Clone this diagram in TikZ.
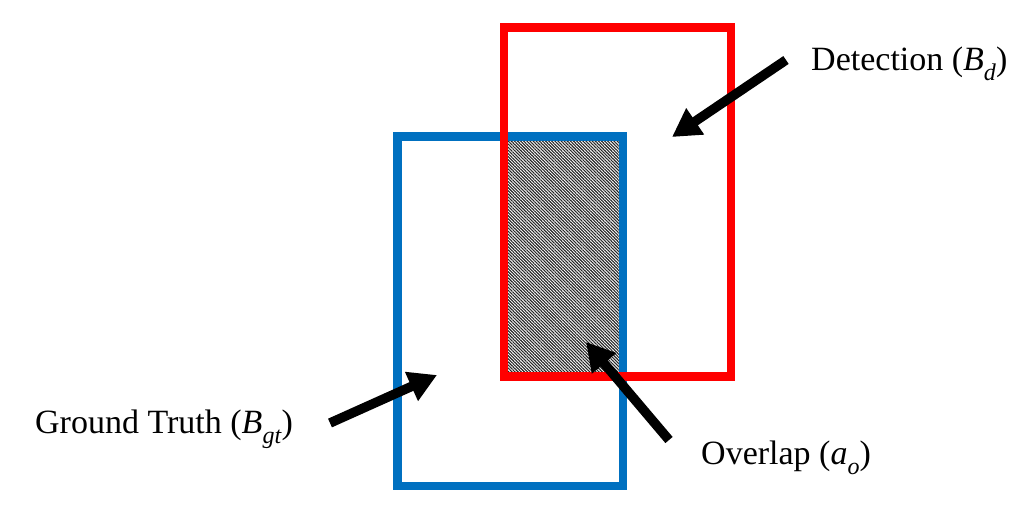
\documentclass[tikz,border=0pt]{standalone}
\usepackage{fontspec}
\setmainfont{Liberation Serif}
\usetikzlibrary{arrows.meta,patterns.meta}
\definecolor{gtblue}{HTML}{0070C0}
\definecolor{detred}{HTML}{FF0000}
\newcommand{\mysub}[2]{\textit{#1}\raisebox{-0.3em}{\fontsize{24}{24}\selectfont\textit{#2}}}
\tikzset{
  box/.style={line width=8.5pt},
  pointer/.style={line width=9.5pt,-{Triangle[length=28pt,width=30pt]}},
  label/.style={anchor=base west,inner sep=0pt,font=\fontsize{34}{38}\selectfont}
}
\begin{document}
\begin{tikzpicture}[x=1pt,y=-1pt]
\useasboundingbox (0,0) rectangle (1024,504);
% overlap hatched
\path[fill=white,postaction={pattern={Lines[angle=-45,distance=2.2pt,line width=1.1pt]},pattern color=black!85}]
  (504,136.5) rectangle (623,376.5);
\draw[box,gtblue] (397.5,136.5) rectangle (623,486);
\draw[box,detred] (504,27.5) rectangle (731,376.5);
% labels
\node[label] (det) at (811,70) {Detection (\mysub{B}{d})};
\node[label] (gt) at (35,433) {Ground Truth (\mysub{B}{gt})};
\node[label] (ov) at (701,464) {Overlap (\mysub{a}{o})};
% arrow ends
\coordinate (detT) at (786,60);
\coordinate (detH) at (672,137);
\coordinate (gtT) at (330,423);
\coordinate (gtH) at (437,375);
\coordinate (ovT) at (669,440);
\coordinate (ovH) at (586,342);
\draw[pointer] (detT) -- (detH);
\draw[pointer] (gtT) -- (gtH);
\draw[pointer] (ovT) -- (ovH);
\end{tikzpicture}
\end{document}
